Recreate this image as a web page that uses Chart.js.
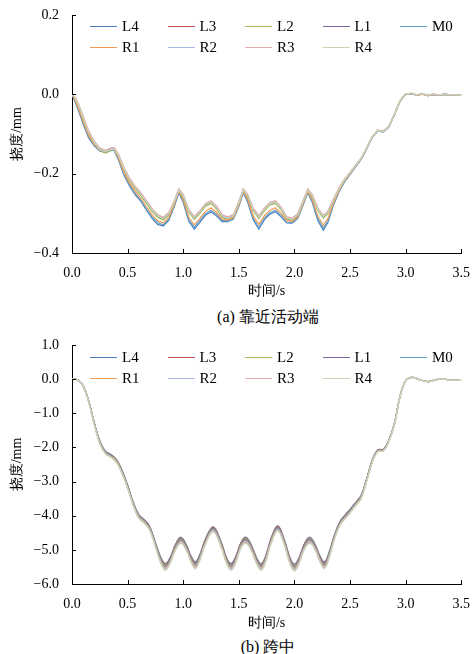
<!DOCTYPE html>
<html><head><meta charset="utf-8">
<script src="https://cdn.jsdelivr.net/npm/chart.js@4.4.0/dist/chart.umd.min.js"></script>
<style>
html,body{margin:0;padding:0;background:#fff;}
body{width:474px;height:654px;position:relative;overflow:hidden;font-family:"Liberation Serif","Times New Roman",serif;color:#000;}
canvas{position:absolute;left:0;}
.cap{position:absolute;left:0;width:536px;text-align:center;font-size:16px;line-height:18px;white-space:nowrap;}
.lg{position:absolute;font-size:15px;line-height:16px;white-space:nowrap;}
.lg i{display:inline-block;width:27px;height:0;border-top:1.6px solid #000;vertical-align:middle;margin-right:5px;position:relative;top:-1px;}
</style></head>
<body>
<canvas id="c1" width="474" height="300" style="top:0"></canvas>
<canvas id="c2" width="474" height="305" style="top:327px"></canvas>
<div class="cap" style="top:308px">(a) 靠近活动端</div>
<div class="cap" style="top:638px">(b) 跨中</div>
<div id="lg1"></div><div id="lg2"></div>
<script>
const seriesNames = ['L4','L3','L2','L1','M0','R1','R2','R3','R4'];
const seriesColors = ['#4f7fc0','#c0504d','#9bbb59','#8064a2','#62a2c8','#f39a52','#a9b8e0','#e2aeae','#c5d8b3'];
const xTicksLabels = ['0.0','0.5','1.0','1.5','2.0','2.5','3.0','3.5'];

// (a) near the movable end
const timeA = [0,0.03,0.06,0.1,0.15,0.2,0.25,0.3,0.35,0.38,0.42,0.47,0.52,0.57,0.62,0.67,0.72,0.77,0.82,0.87,0.92,0.96,1.0,1.05,1.1,1.15,1.2,1.25,1.3,1.35,1.4,1.45,1.5,1.54,1.58,1.63,1.68,1.73,1.78,1.83,1.88,1.93,1.98,2.03,2.08,2.12,2.16,2.21,2.26,2.3,2.35,2.4,2.45,2.5,2.55,2.6,2.65,2.7,2.75,2.8,2.85,2.9,2.95,3.0,3.05,3.1,3.15,3.2,3.25,3.3,3.35,3.4,3.45,3.5];
const a_L4 = [0,-0.020,-0.043,-0.075,-0.110,-0.130,-0.143,-0.146,-0.141,-0.142,-0.167,-0.206,-0.232,-0.254,-0.270,-0.292,-0.313,-0.328,-0.332,-0.318,-0.283,-0.248,-0.272,-0.320,-0.340,-0.323,-0.305,-0.296,-0.307,-0.321,-0.321,-0.315,-0.283,-0.248,-0.272,-0.317,-0.340,-0.316,-0.302,-0.296,-0.309,-0.324,-0.325,-0.313,-0.278,-0.248,-0.272,-0.318,-0.343,-0.324,-0.280,-0.246,-0.221,-0.202,-0.183,-0.164,-0.137,-0.109,-0.092,-0.095,-0.082,-0.051,-0.017,0.0,0.002,-0.002,0.001,-0.003,0.0,-0.002,0.0,-0.001,-0.002,-0.002];
const a_L3 = [0,-0.011,-0.030,-0.060,-0.097,-0.123,-0.140,-0.146,-0.140,-0.139,-0.157,-0.191,-0.217,-0.237,-0.253,-0.273,-0.293,-0.308,-0.315,-0.303,-0.273,-0.243,-0.257,-0.295,-0.313,-0.298,-0.280,-0.273,-0.287,-0.308,-0.314,-0.308,-0.275,-0.243,-0.257,-0.292,-0.311,-0.291,-0.277,-0.273,-0.289,-0.313,-0.317,-0.305,-0.271,-0.243,-0.257,-0.291,-0.310,-0.299,-0.268,-0.240,-0.216,-0.199,-0.181,-0.162,-0.136,-0.107,-0.091,-0.094,-0.081,-0.050,-0.016,0,0.002,-0.002,0.001,-0.003,0,-0.002,0,-0.001,-0.002,-0.002];
const a_L2 = [0,-0.012,-0.032,-0.062,-0.099,-0.125,-0.142,-0.148,-0.142,-0.141,-0.159,-0.193,-0.219,-0.239,-0.255,-0.275,-0.295,-0.310,-0.317,-0.305,-0.275,-0.245,-0.259,-0.297,-0.315,-0.300,-0.282,-0.275,-0.289,-0.310,-0.316,-0.310,-0.277,-0.245,-0.259,-0.294,-0.313,-0.293,-0.279,-0.275,-0.291,-0.315,-0.319,-0.307,-0.273,-0.245,-0.259,-0.293,-0.312,-0.301,-0.270,-0.241,-0.217,-0.200,-0.181,-0.163,-0.136,-0.108,-0.091,-0.094,-0.081,-0.051,-0.016,0,0.002,-0.002,0.001,-0.003,0,-0.002,0,-0.001,-0.002,-0.002];
const a_L1 = [0,-0.009,-0.028,-0.058,-0.095,-0.121,-0.138,-0.144,-0.138,-0.137,-0.155,-0.189,-0.215,-0.235,-0.251,-0.271,-0.291,-0.306,-0.313,-0.301,-0.271,-0.241,-0.255,-0.293,-0.311,-0.296,-0.278,-0.271,-0.285,-0.306,-0.312,-0.306,-0.273,-0.241,-0.255,-0.290,-0.309,-0.289,-0.275,-0.271,-0.287,-0.311,-0.315,-0.303,-0.269,-0.241,-0.255,-0.289,-0.308,-0.297,-0.267,-0.239,-0.216,-0.199,-0.180,-0.162,-0.136,-0.107,-0.091,-0.094,-0.081,-0.050,-0.016,0,0.002,-0.002,0.001,-0.003,0,-0.002,0,-0.001,-0.002,-0.002];
const a_M0 = [0,-0.018,-0.040,-0.072,-0.107,-0.128,-0.142,-0.145,-0.140,-0.141,-0.165,-0.203,-0.229,-0.251,-0.267,-0.289,-0.309,-0.324,-0.329,-0.315,-0.281,-0.246,-0.269,-0.316,-0.335,-0.318,-0.301,-0.292,-0.303,-0.318,-0.319,-0.313,-0.281,-0.246,-0.269,-0.313,-0.335,-0.312,-0.298,-0.292,-0.305,-0.322,-0.323,-0.311,-0.276,-0.246,-0.269,-0.313,-0.337,-0.320,-0.278,-0.245,-0.220,-0.201,-0.182,-0.163,-0.136,-0.108,-0.092,-0.095,-0.082,-0.051,-0.017,0.001,0.002,-0.001,0.001,-0.002,0.0,-0.002,0.001,-0.001,-0.002,-0.002];
const a_R1 = [0,-0.016,-0.037,-0.068,-0.104,-0.126,-0.140,-0.144,-0.139,-0.139,-0.162,-0.199,-0.225,-0.246,-0.262,-0.284,-0.304,-0.319,-0.324,-0.311,-0.278,-0.244,-0.265,-0.310,-0.329,-0.313,-0.295,-0.286,-0.298,-0.315,-0.317,-0.311,-0.279,-0.244,-0.265,-0.307,-0.328,-0.306,-0.292,-0.286,-0.300,-0.318,-0.320,-0.309,-0.274,-0.245,-0.265,-0.307,-0.330,-0.314,-0.275,-0.243,-0.218,-0.200,-0.181,-0.163,-0.136,-0.108,-0.091,-0.094,-0.081,-0.051,-0.017,0.0,0.003,-0.002,0.0,-0.003,0.001,-0.002,0.0,-0.001,-0.002,-0.002];
const a_R2 = [0,-0.010,-0.027,-0.057,-0.094,-0.120,-0.137,-0.143,-0.137,-0.136,-0.154,-0.188,-0.214,-0.234,-0.250,-0.270,-0.290,-0.305,-0.312,-0.300,-0.270,-0.240,-0.254,-0.292,-0.310,-0.295,-0.277,-0.270,-0.284,-0.305,-0.311,-0.305,-0.272,-0.240,-0.254,-0.289,-0.308,-0.288,-0.274,-0.270,-0.286,-0.310,-0.314,-0.302,-0.268,-0.240,-0.254,-0.288,-0.307,-0.296,-0.266,-0.238,-0.215,-0.198,-0.180,-0.162,-0.136,-0.108,-0.092,-0.095,-0.082,-0.051,-0.016,0,0.002,-0.002,0.001,-0.003,0,-0.002,0,-0.001,-0.002,-0.002];
const a_R3 = [0,-0.008,-0.025,-0.055,-0.092,-0.118,-0.135,-0.141,-0.135,-0.134,-0.152,-0.186,-0.212,-0.232,-0.248,-0.268,-0.288,-0.303,-0.310,-0.298,-0.268,-0.238,-0.252,-0.290,-0.308,-0.293,-0.275,-0.268,-0.282,-0.303,-0.309,-0.303,-0.270,-0.238,-0.252,-0.287,-0.306,-0.286,-0.272,-0.268,-0.284,-0.308,-0.312,-0.300,-0.266,-0.238,-0.252,-0.286,-0.305,-0.294,-0.264,-0.236,-0.213,-0.196,-0.178,-0.160,-0.134,-0.106,-0.090,-0.093,-0.080,-0.050,-0.016,0,0.002,-0.002,0.001,-0.003,0,-0.002,0,-0.001,-0.002,-0.002];
const a_R4 = [0,-0.010,-0.029,-0.059,-0.096,-0.122,-0.139,-0.145,-0.139,-0.138,-0.156,-0.190,-0.216,-0.236,-0.252,-0.272,-0.292,-0.307,-0.314,-0.302,-0.272,-0.242,-0.256,-0.294,-0.312,-0.297,-0.279,-0.272,-0.286,-0.307,-0.313,-0.307,-0.274,-0.242,-0.256,-0.291,-0.310,-0.290,-0.276,-0.272,-0.288,-0.312,-0.316,-0.304,-0.270,-0.242,-0.256,-0.290,-0.309,-0.298,-0.268,-0.239,-0.215,-0.198,-0.180,-0.161,-0.135,-0.107,-0.091,-0.094,-0.081,-0.050,-0.016,0.001,0.003,-0.001,0.001,-0.002,0.001,-0.001,0,-0.001,-0.001,-0.002];

// (b) mid-span
const timeB = [0,0.05,0.1,0.15,0.2,0.25,0.3,0.35,0.4,0.45,0.5,0.55,0.6,0.65,0.7,0.75,0.8,0.84,0.88,0.93,0.98,1.03,1.07,1.11,1.15,1.2,1.27,1.34,1.39,1.43,1.47,1.52,1.565,1.61,1.66,1.70,1.74,1.79,1.85,1.91,1.96,2.0,2.04,2.09,2.14,2.19,2.23,2.27,2.31,2.36,2.41,2.46,2.5,2.55,2.6,2.65,2.7,2.75,2.8,2.85,2.9,2.95,3.0,3.06,3.13,3.2,3.27,3.33,3.4,3.5];
const b_L4 = [0,-0.02,-0.19,-0.63,-1.27,-1.81,-2.11,-2.205,-2.355,-2.67,-3.1,-3.6,-3.965,-4.115,-4.32,-4.78,-5.23,-5.4,-5.24,-4.845,-4.63,-4.865,-5.18,-5.35,-5.13,-4.68,-4.325,-4.76,-5.23,-5.4,-5.21,-4.775,-4.63,-4.845,-5.23,-5.4,-5.19,-4.66,-4.295,-4.71,-5.23,-5.42,-5.24,-4.815,-4.63,-4.865,-5.18,-5.35,-5.08,-4.56,-4.16,-3.96,-3.815,-3.61,-3.4,-2.91,-2.365,-2.07,-2.05,-1.775,-1.28,-0.49,-0.05,0.05,-0.02,-0.07,-0.02,0.01,-0.03,-0.04];
const b_L3 = [0,-0.02,-0.193,-0.635,-1.278,-1.82,-2.12,-2.216,-2.366,-2.683,-3.113,-3.613,-3.979,-4.129,-4.335,-4.797,-5.252,-5.425,-5.262,-4.866,-4.652,-4.886,-5.202,-5.375,-5.152,-4.7,-4.344,-4.78,-5.252,-5.425,-5.232,-4.796,-4.652,-4.866,-5.252,-5.425,-5.212,-4.68,-4.314,-4.73,-5.252,-5.445,-5.262,-4.836,-4.652,-4.886,-5.202,-5.375,-5.102,-4.577,-4.175,-3.975,-3.829,-3.623,-3.413,-2.92,-2.374,-2.078,-2.058,-1.781,-1.285,-0.493,-0.05,0.05,-0.02,-0.07,-0.02,0.01,-0.03,-0.04];
const b_L2 = [0,-0.02,-0.195,-0.64,-1.285,-1.83,-2.13,-2.228,-2.378,-2.695,-3.125,-3.625,-3.992,-4.142,-4.35,-4.815,-5.275,-5.45,-5.285,-4.887,-4.675,-4.907,-5.225,-5.4,-5.175,-4.72,-4.362,-4.8,-5.275,-5.45,-5.255,-4.817,-4.675,-4.887,-5.275,-5.45,-5.235,-4.7,-4.332,-4.75,-5.275,-5.47,-5.285,-4.857,-4.675,-4.907,-5.225,-5.4,-5.125,-4.595,-4.19,-3.99,-3.842,-3.635,-3.425,-2.93,-2.382,-2.085,-2.065,-1.788,-1.29,-0.495,-0.05,0.05,-0.02,-0.07,-0.02,0.01,-0.03,-0.04];
const b_L1 = [0,-0.02,-0.198,-0.645,-1.293,-1.84,-2.14,-2.239,-2.389,-2.708,-3.138,-3.638,-4.006,-4.156,-4.365,-4.832,-5.297,-5.475,-5.307,-4.909,-4.697,-4.929,-5.247,-5.425,-5.197,-4.74,-4.381,-4.82,-5.297,-5.475,-5.277,-4.839,-4.697,-4.909,-5.297,-5.475,-5.257,-4.72,-4.351,-4.77,-5.297,-5.495,-5.307,-4.879,-4.697,-4.929,-5.247,-5.425,-5.147,-4.612,-4.205,-4.005,-3.856,-3.648,-3.438,-2.94,-2.391,-2.093,-2.073,-1.794,-1.295,-0.498,-0.05,0.05,-0.02,-0.07,-0.02,0.01,-0.03,-0.04];
const b_M0 = [0,-0.02,-0.2,-0.65,-1.3,-1.85,-2.15,-2.25,-2.4,-2.72,-3.15,-3.65,-4.02,-4.17,-4.38,-4.85,-5.32,-5.5,-5.33,-4.93,-4.72,-4.95,-5.27,-5.45,-5.22,-4.76,-4.4,-4.84,-5.32,-5.5,-5.3,-4.86,-4.72,-4.93,-5.32,-5.5,-5.28,-4.74,-4.37,-4.79,-5.32,-5.52,-5.33,-4.9,-4.72,-4.95,-5.27,-5.45,-5.17,-4.63,-4.22,-4.02,-3.87,-3.66,-3.45,-2.95,-2.4,-2.1,-2.08,-1.8,-1.3,-0.5,-0.05,0.05,-0.02,-0.07,-0.02,0.01,-0.03,-0.04];
const b_R1 = [0,-0.02,-0.203,-0.655,-1.308,-1.86,-2.16,-2.261,-2.411,-2.733,-3.163,-3.663,-4.034,-4.184,-4.395,-4.868,-5.343,-5.525,-5.353,-4.951,-4.743,-4.971,-5.293,-5.475,-5.243,-4.78,-4.419,-4.86,-5.343,-5.525,-5.323,-4.881,-4.743,-4.951,-5.343,-5.525,-5.303,-4.76,-4.389,-4.81,-5.343,-5.545,-5.353,-4.921,-4.743,-4.971,-5.293,-5.475,-5.193,-4.648,-4.235,-4.035,-3.884,-3.673,-3.463,-2.96,-2.409,-2.108,-2.088,-1.806,-1.305,-0.503,-0.05,0.05,-0.02,-0.07,-0.02,0.01,-0.03,-0.04];
const b_R2 = [0,-0.02,-0.205,-0.66,-1.315,-1.87,-2.17,-2.273,-2.423,-2.745,-3.175,-3.675,-4.048,-4.198,-4.41,-4.885,-5.365,-5.55,-5.375,-4.973,-4.765,-4.993,-5.315,-5.5,-5.265,-4.8,-4.438,-4.88,-5.365,-5.55,-5.345,-4.903,-4.765,-4.973,-5.365,-5.55,-5.325,-4.78,-4.408,-4.83,-5.365,-5.57,-5.375,-4.943,-4.765,-4.993,-5.315,-5.5,-5.215,-4.665,-4.25,-4.05,-3.898,-3.685,-3.475,-2.97,-2.418,-2.115,-2.095,-1.813,-1.31,-0.505,-0.05,0.05,-0.02,-0.07,-0.02,0.01,-0.03,-0.04];
const b_R3 = [0,-0.02,-0.208,-0.665,-1.323,-1.88,-2.18,-2.284,-2.434,-2.758,-3.188,-3.688,-4.061,-4.211,-4.425,-4.903,-5.388,-5.575,-5.398,-4.994,-4.788,-5.014,-5.338,-5.525,-5.288,-4.82,-4.456,-4.9,-5.388,-5.575,-5.368,-4.924,-4.788,-4.994,-5.388,-5.575,-5.348,-4.8,-4.426,-4.85,-5.388,-5.595,-5.398,-4.964,-4.788,-5.014,-5.338,-5.525,-5.238,-4.683,-4.265,-4.065,-3.911,-3.698,-3.488,-2.98,-2.426,-2.123,-2.103,-1.819,-1.315,-0.508,-0.05,0.05,-0.02,-0.07,-0.02,0.01,-0.03,-0.04];
const b_R4 = [0,-0.02,-0.21,-0.67,-1.33,-1.89,-2.19,-2.295,-2.445,-2.77,-3.2,-3.7,-4.075,-4.225,-4.44,-4.92,-5.41,-5.6,-5.42,-5.015,-4.81,-5.035,-5.36,-5.55,-5.31,-4.84,-4.475,-4.92,-5.41,-5.6,-5.39,-4.945,-4.81,-5.015,-5.41,-5.6,-5.37,-4.82,-4.445,-4.87,-5.41,-5.62,-5.42,-4.985,-4.81,-5.035,-5.36,-5.55,-5.26,-4.7,-4.28,-4.08,-3.925,-3.71,-3.5,-2.99,-2.435,-2.13,-2.11,-1.825,-1.32,-0.51,-0.05,0.05,-0.02,-0.07,-0.02,0.01,-0.03,-0.04];

const seriesA = [a_L4,a_L3,a_L2,a_L1,a_M0,a_R1,a_R2,a_R3,a_R4];
const seriesB = [b_L4,b_L3,b_L2,b_L1,b_M0,b_R1,b_R2,b_R3,b_R4];

const FONT = '"Liberation Serif", "Times New Roman", serif';
function fmt(v){ if (Math.abs(v) < 1e-9) return '0.0'; const s = v.toFixed(1); return s.replace('-', '\u2212'); }

const inTicks = {
  id: 'inTicks',
  afterDraw(chart){
    const ctx = chart.ctx, x = chart.scales.x, y = chart.scales.y;
    ctx.save(); ctx.strokeStyle = '#000'; ctx.lineWidth = 1;
    x.ticks.forEach(t => { const px = Math.round(x.getPixelForValue(t.value)) + 0.5;
      ctx.beginPath(); ctx.moveTo(px, x.top); ctx.lineTo(px, x.top - 4); ctx.stroke(); });
    y.ticks.forEach(t => { const py = Math.round(y.getPixelForValue(t.value)) + 0.5;
      ctx.beginPath(); ctx.moveTo(y.right, py); ctx.lineTo(y.right + 4, py); ctx.stroke(); });
    ctx.restore();
  }
};

function build(id, times, series, yMin, yMax, yStep, tension, padTop, xH){
  const datasets = series.map((vals, i) => ({
    label: seriesNames[i],
    data: times.map((t, k) => ({x: t, y: vals[k]})),
    borderColor: seriesColors[i], backgroundColor: seriesColors[i],
    borderWidth: 1.2, pointRadius: 0, tension: tension, fill: false, order: 8 - i
  }));
  return new Chart(document.getElementById(id), {
    type: 'line',
    data: {datasets},
    plugins: [inTicks],
    options: {
      responsive: false, animation: false, devicePixelRatio: 1,
      layout: {padding: {top: padTop, right: 10, bottom: 0, left: 0}},
      plugins: {legend: {display: false}, tooltip: {enabled: false}},
      scales: {
        x: {type: 'linear', min: 0, max: 3.5,
            ticks: {stepSize: 0.5, color: '#000', font: {family: FONT, size: 14}, padding: 4, maxRotation: 0, autoSkip: false,
                    callback: (v) => xTicksLabels[Math.round(v / 0.5)] ?? ''},
            grid: {display: false}, border: {display: true, color: '#000', width: 1},
            title: {display: true, text: '时间/s', color: '#000', font: {family: FONT, size: 14}, padding: {top: 0, bottom: 0}},
            afterFit: s => { s.height = xH; }},
        y: {min: yMin, max: yMax,
            ticks: {stepSize: yStep, color: '#000', font: {family: FONT, size: 14}, padding: 5, callback: fmt},
            grid: {display: false}, border: {display: true, color: '#000', width: 1},
            title: {display: true, text: '挠度/mm', color: '#000', font: {family: FONT, size: 14}, padding: {top: 9, bottom: 0}},
            afterFit: s => { s.width = 72; }}
      }
    }
  });
}

build('c1', timeA, seriesA, -0.4, 0.2, 0.2, 0, 15, 47);
build('c2', timeB, seriesB, -6, 1, 1, 0.4, 18, 48);

function legend(id, top){
  const host = document.getElementById(id);
  const colX = [90, 167.5, 245, 322.5, 400];
  seriesNames.forEach((n, i) => {
    const d = document.createElement('div');
    d.className = 'lg';
    const row = i < 5 ? 0 : 1, col = i < 5 ? i : i - 5;
    d.style.left = colX[col] + 'px';
    d.style.top = (top + row * 21 - 8) + 'px';
    d.innerHTML = '<i style="border-top-color:' + seriesColors[i] + '"></i>' + n;
    host.appendChild(d);
  });
}
legend('lg1', 26);
legend('lg2', 357);
</script>
</body></html>
